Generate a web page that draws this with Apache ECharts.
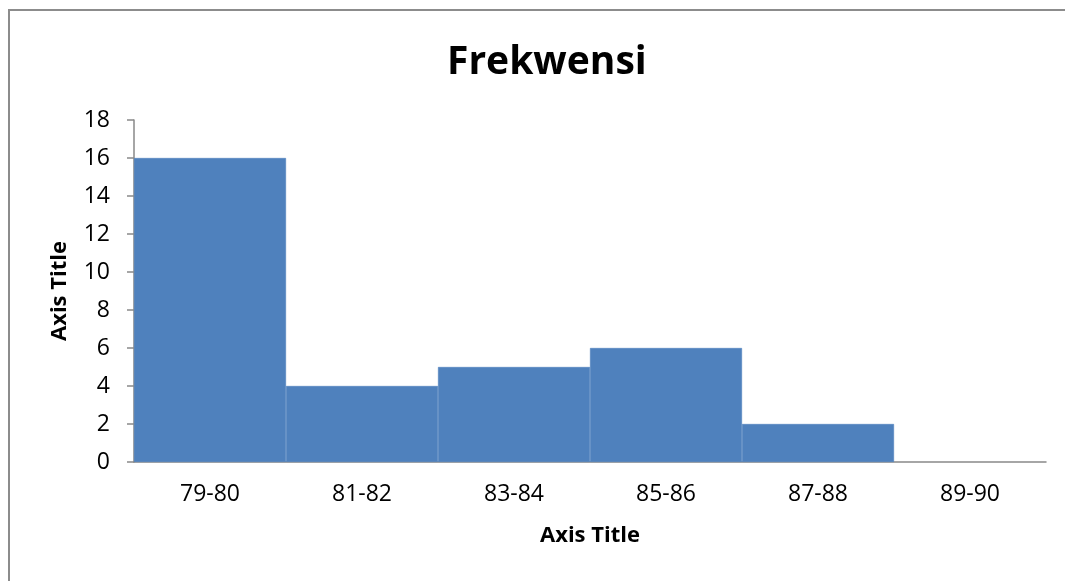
<!DOCTYPE html>
<html>
<head>
<meta charset="utf-8">
<script src="https://cdn.jsdelivr.net/npm/echarts@6/dist/echarts.min.js"></script>
<style>
  html, body { margin: 0; padding: 0; background: #fff; }
  #frame { position: absolute; left: 8px; top: 9px; width: 1070px; height: 590px;
           border: 2px solid #8c8c8c; box-sizing: border-box; }
  #chart { position: absolute; left: 0; top: 0; width: 1065px; height: 581px; }
</style>
</head>
<body>
<div id="frame"></div>
<div id="chart"></div>
<script>
// Frequency table of score ranges
const categories = ['79-80', '81-82', '83-84', '85-86', '87-88', '89-90'];
const frequencies = [16, 4, 5, 6, 2, 0];
const yTicks = { min: 0, max: 18, interval: 2 };

const font = '"Open Sans", "Liberation Sans", sans-serif';
const barColor = '#4F81BD';
const chart = echarts.init(document.getElementById('chart'), null, { renderer: 'canvas' });

// A thin same-colour border closes the hairline seams between adjacent bars;
// empty classes get no border so nothing is drawn on the axis.
const barData = frequencies.map(v => ({
  value: v,
  itemStyle: { borderWidth: v === 0 ? 0 : 0.6 }
}));

chart.setOption({
  animation: false,
  title: {
    text: 'Frekwensi',
    left: 442,
    top: 38,
    textStyle: { fontFamily: font, fontSize: 39, fontWeight: 'bold', color: '#000' }
  },
  grid: { left: 134, right: 19, top: 120, bottom: 119, containLabel: false },
  xAxis: {
    type: 'category',
    data: categories,
    name: 'Axis Title',
    nameLocation: 'middle',
    nameGap: 63,
    nameTextStyle: { fontFamily: font, fontSize: 22, fontWeight: 'bold', color: '#000' },
    axisLine: { lineStyle: { color: '#898989', width: 1.5 } },
    axisTick: { show: false },
    axisLabel: { margin: 21, fontFamily: font, fontSize: 23, color: '#000' }
  },
  yAxis: {
    type: 'value',
    min: yTicks.min,
    max: yTicks.max,
    interval: yTicks.interval,
    name: 'Axis Title',
    nameLocation: 'middle',
    nameGap: 63,
    nameRotate: 90,
    nameTextStyle: { fontFamily: font, fontSize: 22, fontWeight: 'bold', color: '#000' },
    axisLine: { show: true, lineStyle: { color: '#898989', width: 1.5 } },
    axisTick: { show: true, length: 7, lineStyle: { color: '#898989', width: 1.5 } },
    axisLabel: { margin: 24, fontFamily: font, fontSize: 23, color: '#000' },
    splitLine: { show: false }
  },
  series: [{
    type: 'bar',
    data: barData,
    barCategoryGap: 0,
    z: 1,
    itemStyle: { color: barColor, borderColor: barColor }
  }]
});
</script>
</body>
</html>
